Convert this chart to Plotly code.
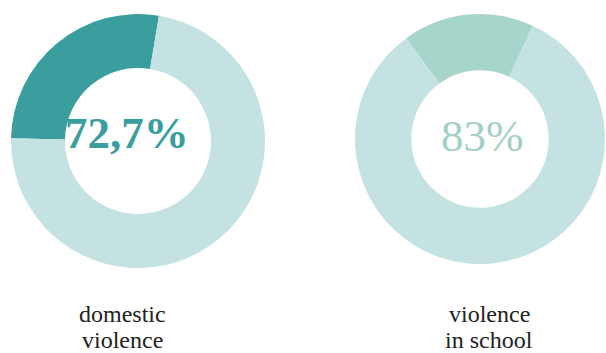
import plotly.graph_objects as go

# Share of respondents per category (percent); the remainder fills the ring
categories = [["domestic", "violence"], ["violence", "in school"]]
shares = [72.7, 83.0]
share_labels = ["72,7%", "83%"]

W, H = 606, 353
SERIF = "Liberation Serif, Times New Roman, serif"

# ring geometry in pixels: centre x, centre y (from top), outer radius, hole ratio
rings = [
    dict(cx=138, cy=141, r=127, hole=0.575, rot_offset=9.5,
         main="#c4e2e2", rest="#3a9e9e", txt="#3a9e9e", bold=True,
         tx=127, ty=133, capx=122),
    dict(cx=480, cy=139, r=125, hole=0.55, rot_offset=25.0,
         main="#c4e2e2", rest="#a6d6cb", txt="#a3cfc5", bold=False,
         tx=482, ty=136, capx=489),
]

fig = go.Figure()
for share, lab, cat, g in zip(shares, share_labels, categories, rings):
    rest = 100 - share
    fig.add_trace(go.Pie(
        values=[rest, share],
        labels=["rest", " ".join(cat)],
        sort=False,
        direction="clockwise",
        rotation=g["rot_offset"] - rest * 3.6,
        hole=g["hole"],
        marker=dict(colors=[g["rest"], g["main"]], line=dict(width=0)),
        textinfo="none",
        hoverinfo="skip",
        domain=dict(
            x=[(g["cx"] - g["r"]) / W, (g["cx"] + g["r"]) / W],
            y=[(H - g["cy"] - g["r"]) / H, (H - g["cy"] + g["r"]) / H],
        ),
    ))
    txt = f"<b>{lab}</b>" if g["bold"] else lab
    fig.add_annotation(
        x=g["tx"] / W, y=(H - g["ty"]) / H, xref="paper", yref="paper",
        text=txt, showarrow=False, xanchor="center", yanchor="middle",
        font=dict(family=SERIF, size=45, color=g["txt"]),
    )
    # two-line caption under the ring
    for line, ymid in zip(cat, [314, 340]):
        fig.add_annotation(
            x=g["capx"] / W, y=(H - ymid) / H, xref="paper", yref="paper",
            text=line, showarrow=False, xanchor="center", yanchor="middle",
            font=dict(family=SERIF, size=24, color="#222222"),
        )

fig.update_layout(
    width=W, height=H,
    margin=dict(l=0, r=0, t=0, b=0),
    paper_bgcolor="white", plot_bgcolor="white",
    showlegend=False,
)

fig.write_html("out.html")
